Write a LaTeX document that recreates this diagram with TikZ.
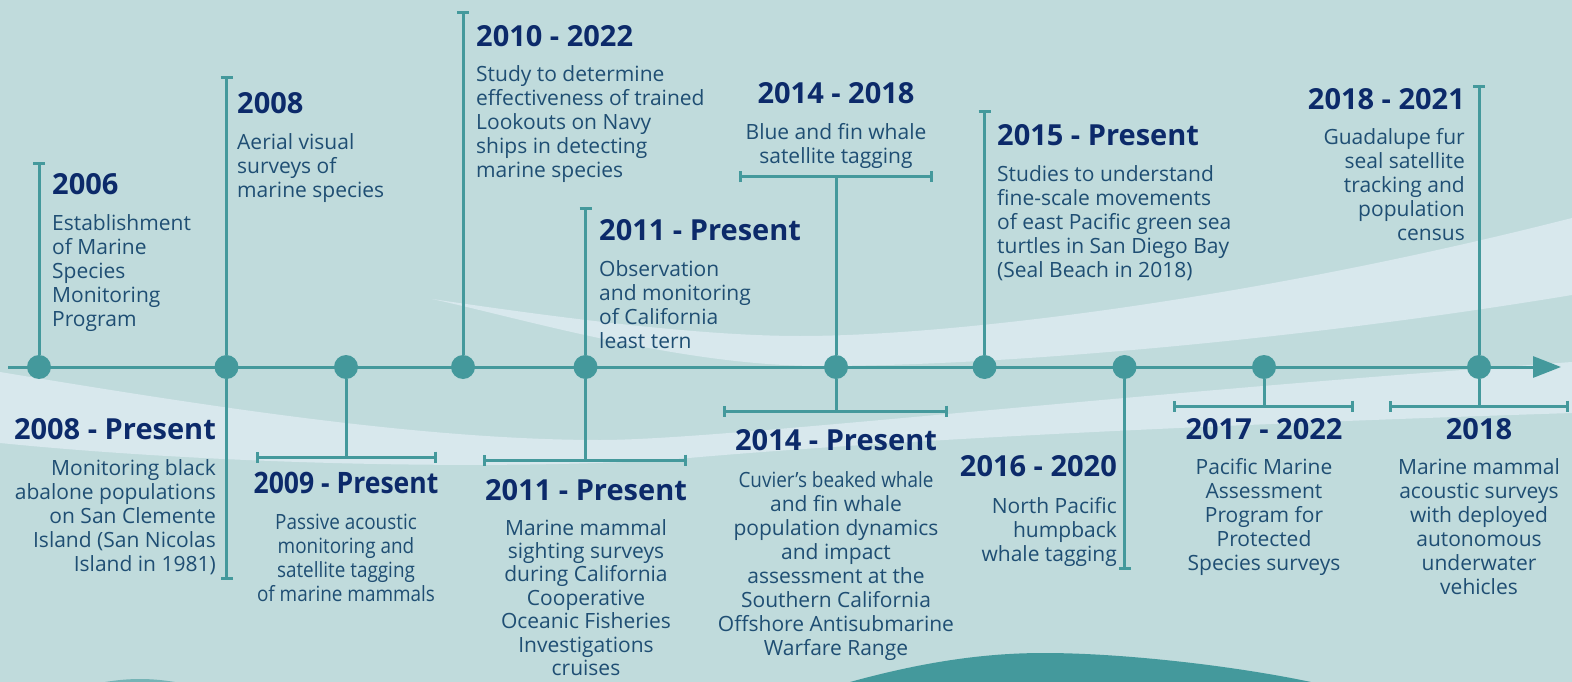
\documentclass[tikz,border=0pt]{standalone}
\usepackage{fontspec}
\setmainfont{Open Sans}
\newfontfamily\narrowsans[FakeStretch=0.9]{Open Sans}
\usetikzlibrary{arrows.meta}
\definecolor{seabg}{HTML}{C0DBDC}
\definecolor{seafoam}{HTML}{D8E8ED}
\definecolor{tealline}{HTML}{44999C}
\definecolor{navyyear}{HTML}{0C2A6A}
\definecolor{inkblue}{HTML}{1F4E73}
\tikzset{
  >=Latex,
  axis/.style={draw=tealline, line width=3pt, -{Triangle[length=28pt,width=21pt]}},
  dot/.style={circle, fill=tealline, minimum size=24pt, inner sep=0pt},
  link/.style={draw=tealline, line width=3pt},
  stem/.style={link, -{Bar[width=12pt]}},
  span/.style={link, {Bar[width=11pt]}-{Bar[width=11pt]}},
  year/.style={font=\fontsize{29}{32}\selectfont\bfseries, text=navyyear, inner sep=0pt},
  yearnarrow/.style={year, font=\fontsize{29.5}{32}\selectfont\narrowsans\bfseries},
  desc/.style={font=\fontsize{21}{24}\selectfont, text=inkblue, inner sep=0pt},
  descnarrow/.style={desc, font=\fontsize{21}{24}\selectfont\narrowsans},
  desctight/.style={desc, font=\fontsize{21}{23.4}\selectfont}
}

\begin{document}
\begin{tikzpicture}[x=1pt,y=-1pt]
\useasboundingbox (0,0) rectangle (1572,682);

% ------------------------------------------------------------------
% backdrop: water and swooshes
% ------------------------------------------------------------------
\fill[seabg] (0,0) rectangle (1572,682);
\fill[seafoam] (432,299) .. controls (560,318) and (700,336) .. (800,336)
  .. controls (950,336) and (1250,300) .. (1572,218) -- (1572,295)
  .. controls (1300,340) and (1000,366) .. (820,366)
  .. controls (680,366) and (520,318) .. (432,299) -- cycle;
\fill[seafoam] (0,372) .. controls (200,405) and (420,440) .. (600,440)
  .. controls (720,440) and (1100,395) .. (1572,362) -- (1572,413)
  .. controls (1200,425) and (900,440) .. (700,457)
  .. controls (560,470) and (250,468) .. (0,443) -- cycle;
\fill[tealline] (850,682) .. controls (930,660) and (990,653) .. (1044,653)
  .. controls (1120,653) and (1230,665) .. (1311,682) -- cycle;
\fill[tealline!60!seabg] (105,682) .. controls (130,678) and (150,678) .. (175,682) -- cycle;

% ------------------------------------------------------------------
% time axis and event dots
% ------------------------------------------------------------------
\coordinate (start) at (8,367);
\coordinate (tip) at (1561,367);
\draw[axis] (start) -- (tip);

\node[dot] (d2006) at (39,367) {};
\node[dot] (d2008) at (226.5,367) {};
\node[dot] (d2009) at (346,367) {};
\node[dot] (d2010) at (463,367) {};
\node[dot] (d2011) at (585.5,367) {};
\node[dot] (d2014) at (836,367) {};
\node[dot] (d2015) at (984.5,367) {};
\node[dot] (d2016) at (1124.5,367) {};
\node[dot] (d2017) at (1264,367) {};
\node[dot] (d2018) at (1479,367) {};

% ------------------------------------------------------------------
% stems and brackets
% ------------------------------------------------------------------
\coordinate (top2006) at (39,162);
\coordinate (top2008) at (226.5,76);
\coordinate (bot2008) at (226.5,580);
\coordinate (mid2009) at (346,457);
\coordinate (left2009) at (256,457);
\coordinate (right2009) at (437,457);
\coordinate (top2010) at (463,11);
\coordinate (top2011) at (585.5,207);
\coordinate (mid2011) at (585.5,460);
\coordinate (left2011) at (483,460);
\coordinate (right2011) at (687,460);
\coordinate (topmid2014) at (836,177);
\coordinate (topleft2014) at (739,177);
\coordinate (topright2014) at (933,177);
\coordinate (botmid2014) at (836,411);
\coordinate (botleft2014) at (723,411);
\coordinate (botright2014) at (948,411);
\coordinate (top2015) at (984.5,110);
\coordinate (bot2016) at (1124.5,570);
\coordinate (mid2017) at (1264,406);
\coordinate (left2017) at (1173,406);
\coordinate (right2017) at (1354,406);
\coordinate (top2018) at (1479,85);
\coordinate (mid2018) at (1479,406);
\coordinate (left2018) at (1388.5,406);
\coordinate (right2018) at (1569,406);

\draw[stem] (d2006) -- (top2006);
\draw[stem] (d2008) -- (top2008);
\draw[stem] (d2008) -- (bot2008);
\draw[link] (d2009) -- (mid2009);
\draw[span] (left2009) -- (right2009);
\draw[stem] (d2010) -- (top2010);
\draw[stem] (d2011) -- (top2011);
\draw[link] (d2011) -- (mid2011);
\draw[span] (left2011) -- (right2011);
\draw[link] (d2014) -- (topmid2014);
\draw[span] (topleft2014) -- (topright2014);
\draw[link] (d2014) -- (botmid2014);
\draw[span] (botleft2014) -- (botright2014);
\draw[stem] (d2015) -- (top2015);
\draw[stem] (d2016) -- (bot2016);
\draw[link] (d2017) -- (mid2017);
\draw[span] (left2017) -- (right2017);
\draw[stem] (d2018) -- (top2018);
\draw[link] (d2018) -- (mid2018);
\draw[span] (left2018) -- (right2018);

% ------------------------------------------------------------------
% events above the axis
% ------------------------------------------------------------------
\node[year, anchor=north west] (y2006) at (52,173) {2006};
\node[desc, anchor=north west, align=left] (t2006) at (52,214)
  {Establishment\\of Marine\\Species\\Monitoring\\Program};

\node[year, anchor=north west] (y2008) at (237,92) {2008};
\node[desc, anchor=north west, align=left] (t2008) at (237,133)
  {Aerial visual\\surveys of\\marine species};

\node[year, anchor=north west] (y2010) at (476,25) {2010 - 2022};
\node[desc, anchor=north west, align=left] (t2010) at (476,65)
  {Study to determine\\effectiveness of trained\\Lookouts on Navy\\ships in detecting\\marine species};

\node[year, anchor=north] (y2014a) at (836,82) {2014 - 2018};
\node[desc, anchor=north, align=center] (t2014a) at (836,123)
  {Blue and fin whale\\satellite tagging};

\node[year, anchor=north west] (y2011a) at (599,219) {2011 - Present};
\node[desc, anchor=north west, align=left] (t2011a) at (599,260)
  {Observation\\and monitoring\\of California\\least tern};

\node[year, anchor=north west] (y2015) at (997,124) {2015 - Present};
\node[desc, anchor=north west, align=left] (t2015) at (997,165)
  {Studies to understand\\fine-scale movements\\of east Pacific green sea\\turtles in San Diego Bay\\(Seal Beach in 2018)};

\node[year, anchor=north east] (y2018a) at (1465,88) {2018 - 2021};
\node[desc, anchor=north east, align=right] (t2018a) at (1465,128)
  {Guadalupe fur\\seal satellite\\tracking and\\population\\census};

% ------------------------------------------------------------------
% events below the axis
% ------------------------------------------------------------------
\node[year, anchor=north east] (y2008b) at (216,418) {2008 - Present};
\node[desc, anchor=north east, align=right] (t2008b) at (216,459)
  {Monitoring black\\abalone populations\\on San Clemente\\Island (San Nicolas\\Island in 1981)};

\node[yearnarrow, anchor=north] (y2009) at (346,472) {2009 - Present};
\node[descnarrow, anchor=north, align=center] (t2009) at (346,514)
  {Passive acoustic\\monitoring and\\satellite tagging\\of marine mammals};

\node[year, anchor=north] (y2011b) at (586,479) {2011 - Present};
\node[desctight, anchor=north, align=center] (t2011b) at (586,519)
  {Marine mammal\\sighting surveys\\during California\\Cooperative\\Oceanic Fisheries\\Investigations\\cruises};

\node[year, anchor=north] (y2014b) at (836,429) {2014 - Present};
\node[desc, anchor=north, align=center] (t2014b) at (836,471)
  {{\narrowsans Cuvier’s beaked whale}\\and fin whale\\population dynamics\\and impact\\assessment at the\\Southern California\\Offshore Antisubmarine\\Warfare Range};

\node[year, anchor=north east] (y2016) at (1117,455) {2016 - 2020};
\node[desc, anchor=north east, align=right] (t2016) at (1117,497)
  {North Pacific\\humpback\\whale tagging};

\node[year, anchor=north] (y2017) at (1264,418) {2017 - 2022};
\node[desc, anchor=north, align=center] (t2017) at (1264,458)
  {Pacific Marine\\Assessment\\Program for\\Protected\\Species surveys};

\node[year, anchor=north] (y2018b) at (1479,418) {2018};
\node[desc, anchor=north, align=center] (t2018b) at (1479,458)
  {Marine mammal\\acoustic surveys\\with deployed\\autonomous\\underwater\\vehicles};

\end{tikzpicture}
\end{document}
